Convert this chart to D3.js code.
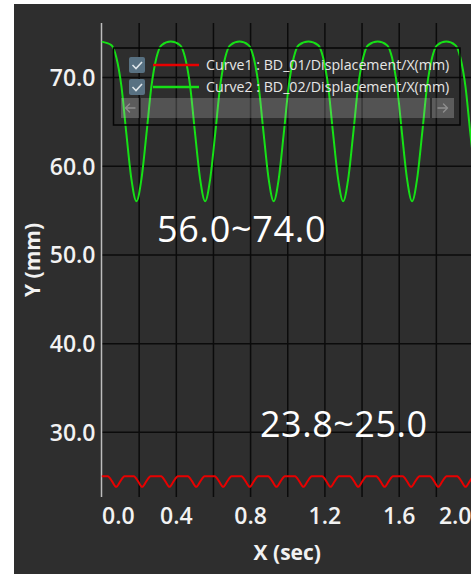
<!DOCTYPE html>
<html><head><meta charset="utf-8">
<script src="https://cdn.jsdelivr.net/npm/d3@7"></script>
<style>
html,body{margin:0;padding:0;background:#fff;overflow:hidden;}
svg{display:block;}
text{font-family:"Open Sans","Noto Sans",sans-serif;}
</style></head><body>
<svg id="chart" width="471" height="574"></svg>
<script>
// Series names and colours
const seriesNames = ["Curve1 : BD_01/Displacement/X(mm)", "Curve2 : BD_02/Displacement/X(mm)"];
const seriesColors = ["#e80000", "#16e016"];

// Curve1 samples (time in s, displacement in mm)
const curve1Time = [0.000,
  0.034, 0.057, 0.079, 0.101, 0.124,
  0.174, 0.197, 0.219, 0.241, 0.264,
  0.321, 0.344, 0.366, 0.388, 0.411,
  0.465, 0.488, 0.510, 0.532, 0.555,
  0.610, 0.633, 0.655, 0.677, 0.700,
  0.753, 0.776, 0.798, 0.820, 0.843,
  0.897, 0.920, 0.942, 0.964, 0.987,
  1.042, 1.065, 1.087, 1.109, 1.132,
  1.188, 1.211, 1.233, 1.255, 1.278,
  1.337, 1.360, 1.382, 1.404, 1.427,
  1.479, 1.502, 1.524, 1.546, 1.569,
  1.622, 1.645, 1.667, 1.689, 1.712,
  1.768, 1.791, 1.813, 1.835, 1.858,
  1.915, 1.938, 1.960, 1.982, 2.005,
  2.060];
const curve1Value = [25.0,
  25.0, 24.4, 23.8, 24.4, 25.0,
  25.0, 24.4, 23.8, 24.4, 25.0,
  25.0, 24.4, 23.8, 24.4, 25.0,
  25.0, 24.4, 23.8, 24.4, 25.0,
  25.0, 24.4, 23.8, 24.4, 25.0,
  25.0, 24.4, 23.8, 24.4, 25.0,
  25.0, 24.4, 23.8, 24.4, 25.0,
  25.0, 24.4, 23.8, 24.4, 25.0,
  25.0, 24.4, 23.8, 24.4, 25.0,
  25.0, 24.4, 23.8, 24.4, 25.0,
  25.0, 24.4, 23.8, 24.4, 25.0,
  25.0, 24.4, 23.8, 24.4, 25.0,
  25.0, 24.4, 23.8, 24.4, 25.0,
  25.0, 24.4, 23.8, 24.4, 25.0,
  25.0];

// Curve2 samples (time in s, displacement in mm)
const curve2Time = [0.000,
  0.053, 0.080, 0.107, 0.134, 0.161, 0.188, 0.215, 0.242, 0.269, 0.296, 0.323, 0.373,
  0.423, 0.450, 0.477, 0.504, 0.531, 0.558, 0.585, 0.612, 0.639, 0.666, 0.693, 0.743,
  0.792, 0.819, 0.846, 0.873, 0.900, 0.927, 0.954, 0.981, 1.008, 1.035, 1.062, 1.114,
  1.166, 1.193, 1.220, 1.247, 1.274, 1.301, 1.328, 1.355, 1.382, 1.409, 1.436, 1.487,
  1.537, 1.564, 1.591, 1.618, 1.645, 1.672, 1.699, 1.726, 1.753, 1.780, 1.807, 1.856,
  1.905, 1.932, 1.959, 1.986, 2.013];
const curve2Value = [74.0,
  73.6, 72.2, 69.0, 63.6, 58.5, 56.0, 58.5, 63.6, 69.0, 72.2, 73.6, 74.0,
  73.6, 72.2, 69.0, 63.6, 58.5, 56.0, 58.5, 63.6, 69.0, 72.2, 73.6, 74.0,
  73.6, 72.2, 69.0, 63.6, 58.5, 56.0, 58.5, 63.6, 69.0, 72.2, 73.6, 74.0,
  73.6, 72.2, 69.0, 63.6, 58.5, 56.0, 58.5, 63.6, 69.0, 72.2, 73.6, 74.0,
  73.6, 72.2, 69.0, 63.6, 58.5, 56.0, 58.5, 63.6, 69.0, 72.2, 73.6, 74.0,
  73.6, 72.2, 69.0, 63.6, 58.5];

// Axis ticks and labels
const xGridTicks = [0.2, 0.4, 0.6, 0.8, 1.0, 1.2, 1.4, 1.6, 1.8, 2.0];
const xLabelTicks = [0.0, 0.4, 0.8, 1.2, 1.6, 2.0];
const yTicks = [30, 40, 50, 60, 70];
const xTitle = "X (sec)";
const yTitle = "Y (mm)";
const rangeLabels = ["56.0~74.0", "23.8~25.0"];

const svg = d3.select("#chart");
const W = 471, H = 574;
const plot = {left: 101.5, right: 473, top: 23, bottom: 497};

// panel background
svg.append("rect").attr("x", 14).attr("y", 4).attr("width", W - 14).attr("height", H - 4).attr("fill", "#2e2e2e");

const x = d3.scaleLinear().domain([0, 2.0]).range([plot.left, plot.right]);
const y = d3.scaleLinear().domain([22.65, 76.1]).range([plot.bottom, plot.top]);

// grid
const gridX = svg.append("g").attr("transform", `translate(0,${plot.bottom})`)
  .call(d3.axisBottom(x).tickValues(xGridTicks).tickSize(-(plot.bottom - plot.top)).tickFormat(""));
gridX.select(".domain").remove();
gridX.selectAll("line").attr("stroke", "#0b0b0b").attr("stroke-width", 1.5);

const gridY = svg.append("g").attr("transform", `translate(${plot.left},0)`)
  .call(d3.axisLeft(y).tickValues(yTicks).tickSize(-(plot.right - plot.left)).tickFormat(""));
gridY.select(".domain").remove();
gridY.selectAll("line").attr("stroke", "#0b0b0b").attr("stroke-width", 1.5);

// y axis line
svg.append("line").attr("x1", plot.left).attr("x2", plot.left).attr("y1", plot.top).attr("y2", plot.bottom)
  .attr("stroke", "#bdbdbd").attr("stroke-width", 1.5);

// curves
svg.append("defs").append("clipPath").attr("id", "plotClip").append("rect")
  .attr("x", plot.left).attr("y", plot.top).attr("width", plot.right - plot.left).attr("height", plot.bottom - plot.top);

const line = d3.line().x(d => x(d[0])).y(d => y(d[1])).curve(d3.curveMonotoneX);
const curves = [
  d3.zip(curve1Time, curve1Value),
  d3.zip(curve2Time, curve2Value)
];
const curveG = svg.append("g").attr("clip-path", "url(#plotClip)");
curves.forEach((pts, i) => {
  curveG.append("path").datum(pts).attr("d", line)
    .attr("fill", "none").attr("stroke", seriesColors[i]).attr("stroke-width", 2)
    .attr("stroke-linejoin", "round");
});

// tick labels
const yAxis = svg.append("g").attr("transform", `translate(${plot.left},0)`)
  .call(d3.axisLeft(y).tickValues(yTicks).tickSize(0).tickPadding(6).tickFormat(d3.format(".1f")));
yAxis.select(".domain").remove();
yAxis.selectAll("text").attr("fill", "#f2f2f2").attr("font-size", 23).attr("font-weight", 600)
  .attr("font-family", "'Open Sans', sans-serif").attr("dy", "0.36em");

const xAxis = svg.append("g").attr("transform", `translate(0,${plot.bottom})`)
  .call(d3.axisBottom(x).tickValues(xLabelTicks).tickSize(0).tickPadding(27).tickFormat(d3.format(".1f")));
xAxis.select(".domain").remove();
const nX = xLabelTicks.length;
xAxis.selectAll("text").attr("fill", "#f2f2f2").attr("font-size", 23).attr("font-weight", 600)
  .attr("font-family", "'Open Sans', sans-serif").attr("dy", 0)
  .attr("text-anchor", (d, i) => i === 0 ? "start" : (i === nX - 1 ? "end" : "middle"))
  .attr("dx", (d, i) => i === nX - 1 ? -(plot.right - W) : 0);

// axis titles
svg.append("text").attr("x", (plot.left + plot.right) / 2).attr("y", 560)
  .attr("text-anchor", "middle").attr("fill", "#f2f2f2").attr("font-size", 21).attr("font-weight", 700)
  .text(xTitle);
svg.append("text").attr("transform", `translate(40,${(plot.top + plot.bottom) / 2}) rotate(-90)`)
  .attr("text-anchor", "middle").attr("fill", "#f2f2f2").attr("font-size", 21).attr("font-weight", 700)
  .text(yTitle);

// range annotations
svg.append("text").attr("x", 157).attr("y", 242).attr("fill", "#ffffff").attr("font-size", 36)
  .attr("letter-spacing", 0.7).text(rangeLabels[0]);
svg.append("text").attr("x", 260).attr("y", 437).attr("fill", "#ffffff").attr("font-size", 36)
  .attr("letter-spacing", 0.5).text(rangeLabels[1]);

// legend panel
const lg = svg.append("g");
lg.append("rect").attr("x", 113.5).attr("y", 48).attr("width", 346.5).attr("height", 77)
  .attr("fill", "none").attr("stroke", "#050505").attr("stroke-width", 1.5);
seriesNames.forEach((name, i) => {
  const cy = 65 + i * 22;
  lg.append("rect").attr("x", 129).attr("y", cy - 8).attr("width", 16).attr("height", 16).attr("rx", 2)
    .attr("fill", "#587182");
  lg.append("path").attr("d", `M${132.5},${cy} L${136},${cy + 3.5} L${142},${cy - 3}`)
    .attr("fill", "none").attr("stroke", "#dfe6ea").attr("stroke-width", 1.6);
  lg.append("line").attr("x1", 153).attr("x2", 199).attr("y1", cy).attr("y2", cy)
    .attr("stroke", seriesColors[i]).attr("stroke-width", 2.6);
  lg.append("text").attr("x", 206).attr("y", cy + 5).attr("fill", "#e6e6e6").attr("font-size", 14.2)
    .text(name);
});
// horizontal scroll bar with arrow buttons
const sb = [[121, 139], [141, 430], [432, 454]];
sb.forEach(([a, b], i) => {
  lg.append("rect").attr("x", a).attr("y", 98).attr("width", b - a).attr("height", 20)
    .attr("fill", i === 1 ? "rgba(200,200,200,0.24)" : "rgba(200,200,200,0.30)");
});
const arrowStyle = s => s.attr("fill", "none").attr("stroke", "#8e8e8e").attr("stroke-width", 1.4)
  .attr("stroke-linecap", "round").attr("stroke-linejoin", "round");
lg.append("path").attr("d", "M125.5,108 L135,108 M125.5,108 L129.5,104 M125.5,108 L129.5,112").call(arrowStyle);
lg.append("path").attr("d", "M438,108 L447.5,108 M447.5,108 L443.5,104 M447.5,108 L443.5,112").call(arrowStyle);
</script>
</body></html>
